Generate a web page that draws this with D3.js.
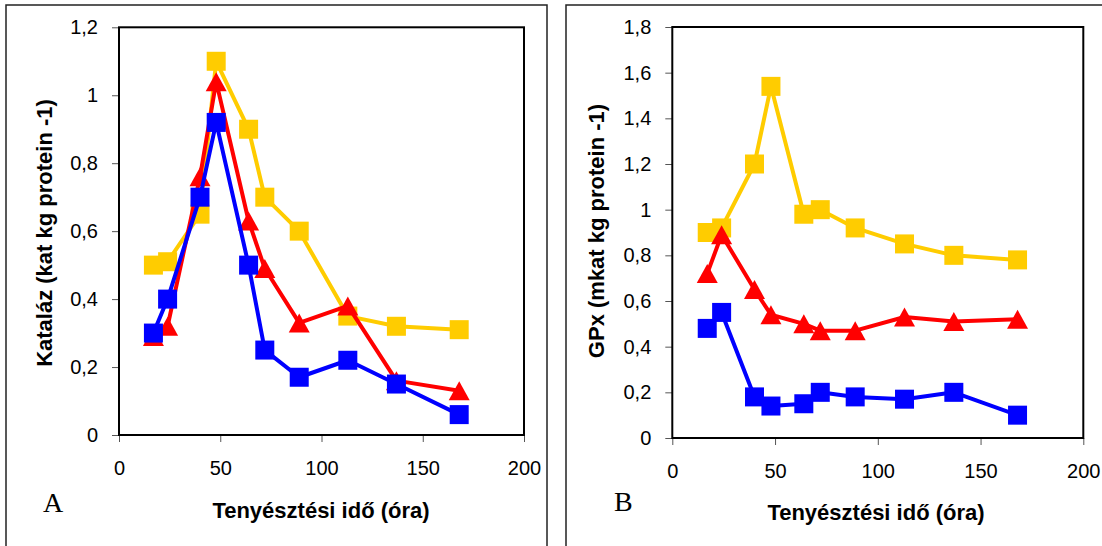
<!DOCTYPE html>
<html>
<head>
<meta charset="utf-8">
<script src="https://cdn.jsdelivr.net/npm/d3@7"></script>
<style>
  body { margin: 0; background: #fff; }
  svg { display: block; }
  .tick text { font-family: "Liberation Sans", Arial, sans-serif; font-size: 20px; fill: #000; }
  .tick line { stroke: #555; stroke-width: 1; }
  .title { font-family: "Liberation Sans", Arial, sans-serif; font-size: 22px; font-weight: bold; fill: #000; }
  .panel-label { font-family: "Liberation Serif", "Times New Roman", serif; font-size: 28px; fill: #000; }
</style>
</head>
<body>
<svg id="chart" width="1102" height="546"></svg>
<script>
// sampling times (hours), shared by both panels
const hours = [17, 24, 40, 48, 64, 72, 89, 113, 137, 168];

// panel A: kataláz
const katYellow = [0.50, 0.51, 0.65, 1.10, 0.90, 0.70, 0.60, 0.35, 0.32, 0.31];
const katRed    = [0.29, 0.32, 0.76, 1.04, 0.63, 0.49, 0.33, 0.38, 0.16, 0.13];
const katBlue   = [0.30, 0.40, 0.70, 0.92, 0.50, 0.25, 0.17, 0.22, 0.15, 0.06];

// panel B: GPx
const gpxYellow = [0.90, 0.92, 1.20, 1.54, 0.98, 1.00, 0.92, 0.85, 0.80, 0.78];
const gpxRed    = [0.72, 0.89, 0.65, 0.54, 0.50, 0.47, 0.47, 0.53, 0.51, 0.52];
const gpxBlue   = [0.48, 0.55, 0.18, 0.14, 0.15, 0.20, 0.18, 0.17, 0.20, 0.10];

const xTicks = [0, 50, 100, 150, 200];
const katTicks = [0, 0.2, 0.4, 0.6, 0.8, 1, 1.2];
const gpxTicks = [0, 0.2, 0.4, 0.6, 0.8, 1, 1.2, 1.4, 1.6, 1.8];

const svg = d3.select('#chart');
const fmt = d => String(+d.toFixed(1)).replace('.', ',');

const colors = { yellow: '#FFCC00', red: '#FF0000', blue: '#0000FF' };

// outer frames of the two figures
svg.append('rect').attr('x', 6).attr('y', 5).attr('width', 541).attr('height', 560)
  .attr('fill', 'none').attr('stroke', '#222').attr('stroke-width', 1.5);
svg.append('rect').attr('x', 566).attr('y', 5).attr('width', 560).attr('height', 560)
  .attr('fill', 'none').attr('stroke', '#222').attr('stroke-width', 1.5);

function panel(opt) {
  const x = d3.scaleLinear().domain([0, 200]).range([opt.left, opt.right]);
  const y = d3.scaleLinear().domain([0, opt.yMax]).range([opt.bottom, opt.top]);
  const g = svg.append('g');

  g.append('g')
    .attr('transform', `translate(0,${opt.bottom})`)
    .call(d3.axisBottom(x).tickValues(xTicks).tickFormat(d => d).tickSize(7).tickPadding(19))
    .call(a => a.select('.domain').remove());

  g.append('g')
    .attr('transform', `translate(${opt.left},0)`)
    .call(d3.axisLeft(y).tickValues(opt.yTicks).tickFormat(fmt).tickSize(7).tickPadding(14))
    .call(a => a.select('.domain').remove());

  g.append('rect')
    .attr('x', opt.left).attr('y', opt.top)
    .attr('width', opt.right - opt.left).attr('height', opt.bottom - opt.top)
    .attr('fill', 'none').attr('stroke', '#000').attr('stroke-width', 2);

  const line = d3.line().x(d => x(d[0])).y(d => y(d[1]));

  opt.series.forEach(s => {
    const pts = hours.map((h, i) => [h, s.values[i]]);
    g.append('path').datum(pts)
      .attr('d', line)
      .attr('fill', 'none')
      .attr('stroke', s.color)
      .attr('stroke-width', 4)
      .attr('stroke-linejoin', 'round');

    if (s.shape === 'square') {
      g.selectAll(null).data(pts).enter().append('rect')
        .attr('x', d => x(d[0]) - 9.5)
        .attr('y', d => y(d[1]) - 9.5)
        .attr('width', 19).attr('height', 19)
        .attr('fill', s.color);
    } else {
      g.selectAll(null).data(pts).enter().append('path')
        .attr('d', 'M0,-9.5L10.5,9.5L-10.5,9.5Z')
        .attr('transform', d => `translate(${x(d[0])},${y(d[1])})`)
        .attr('fill', s.color);
    }
  });

  g.append('text').attr('class', 'title')
    .attr('x', opt.xTitle[0]).attr('y', opt.xTitle[1])
    .attr('text-anchor', 'middle')
    .text('Tenyésztési idő (óra)');

  g.append('text').attr('class', 'title')
    .attr('transform', `translate(${opt.yTitle[0]},${opt.yTitle[1]}) rotate(-90)`)
    .attr('text-anchor', 'middle')
    .text(opt.yLabel);

  g.append('text').attr('class', 'panel-label')
    .attr('x', opt.letter[0]).attr('y', opt.letter[1])
    .text(opt.letterText);
}

panel({
  left: 119, right: 524, top: 27.3, bottom: 435,
  yMax: 1.2, yTicks: katTicks,
  yLabel: 'Kataláz (kat kg protein -1)',
  xTitle: [321, 518], yTitle: [52, 233],
  letter: [43, 512], letterText: 'A',
  series: [
    { values: katYellow, color: colors.yellow, shape: 'square' },
    { values: katRed, color: colors.red, shape: 'triangle' },
    { values: katBlue, color: colors.blue, shape: 'square' }
  ]
});

panel({
  left: 672.3, right: 1083.3, top: 27, bottom: 438,
  yMax: 1.8, yTicks: gpxTicks,
  yLabel: 'GPx (mkat kg protein -1)',
  xTitle: [876, 520], yTitle: [604, 231],
  letter: [614, 511], letterText: 'B',
  series: [
    { values: gpxYellow, color: colors.yellow, shape: 'square' },
    { values: gpxRed, color: colors.red, shape: 'triangle' },
    { values: gpxBlue, color: colors.blue, shape: 'square' }
  ]
});
</script>
</body>
</html>
